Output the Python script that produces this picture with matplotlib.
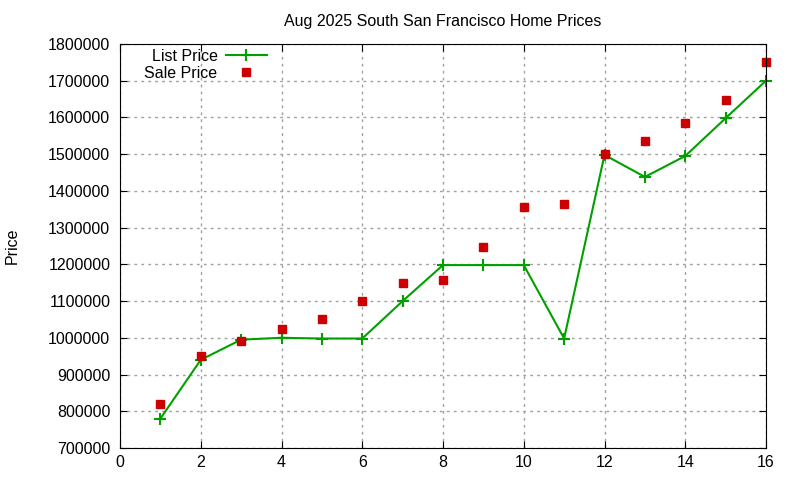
import matplotlib
matplotlib.use('Agg')
import matplotlib.pyplot as plt

plt.rcParams['font.family'] = ['Liberation Sans', 'DejaVu Sans']

# data
months = [1, 2, 3, 4, 5, 6, 7, 8, 9, 10, 11, 12, 13, 14, 15, 16]
list_price = [780000, 940000, 995000, 1000000, 998000, 998000, 1100000, 1198000,
              1198000, 1198000, 998000, 1498000, 1438000, 1495000, 1598000, 1700000]
sale_price = [820000, 950000, 990000, 1025000, 1050000, 1100000, 1148000, 1158000,
              1248000, 1355000, 1363000, 1500000, 1537000, 1584000, 1648000, 1750000]

fig = plt.figure(figsize=(8, 4.8), dpi=100)
ax = fig.add_axes([0.15, 0.0667, 0.8075, 0.8417])

ax.plot(months, list_price, color='#00a000', linewidth=1.5, marker='+',
        markersize=8, markeredgewidth=1.5, label='List Price', clip_on=False)
ax.plot(months, sale_price, linestyle='none', color='#cc0000', marker='s',
        markersize=5.8, label='Sale Price', clip_on=False)

ax.set_xlim(0, 16)
ax.set_ylim(700000, 1800000)
ax.set_xticks(range(0, 17, 2))
ax.set_yticks(range(700000, 1800001, 100000))
ax.ticklabel_format(style='plain', axis='y')
ax.tick_params(direction='in', top=True, right=True, labelsize=11.5, length=5)
ax.tick_params(axis='y', pad=7)
ax.tick_params(axis='x', pad=5)
ax.grid(True, linestyle=(0, (2, 3)), color='#a0a0a0', linewidth=1)

ax.set_title('Aug 2025 South San Francisco Home Prices', fontsize=11.5, pad=13)
ax.set_ylabel('Price', fontsize=11.5, va='center')
ax.yaxis.set_label_coords(-0.167, 0.5)

ax.legend(loc='upper right', frameon=False, markerfirst=False, fontsize=11.5,
          handlelength=2.6, handletextpad=0.5, borderaxespad=0, borderpad=0,
          labelspacing=0.1, bbox_to_anchor=(0.2276, 0.9876))

fig.savefig('out.png', dpi=100)
